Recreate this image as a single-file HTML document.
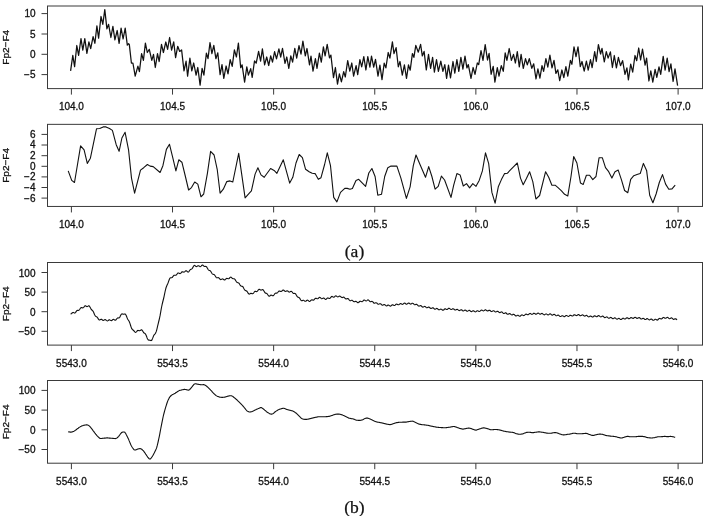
<!DOCTYPE html>
<html><head><meta charset="utf-8"><style>
html,body{margin:0;padding:0;background:#fff;width:709px;height:516px;overflow:hidden}
svg{display:block}
.ax{font-family:"Liberation Sans",Arial,sans-serif;font-size:10.0px;fill:#111;stroke:#111;stroke-width:0.3px}
.cap{font-family:"Liberation Serif","Times New Roman",serif;font-size:17.5px;fill:#111;stroke:#111;stroke-width:0.25px}
</style></head><body>
<svg width="709" height="516" viewBox="0 0 709 516">
<rect width="709" height="516" fill="#fff"/>
<rect x="47.5" y="6.0" width="655.0" height="82.6" fill="none" stroke="#3a3a3a" stroke-width="1"/>
<line x1="41.5" y1="13.6" x2="47.5" y2="13.6" stroke="#3a3a3a" stroke-width="1"/>
<text class="ax" text-anchor="end" transform="translate(35.5 17.35) scale(1.0 1)">10</text>
<line x1="41.5" y1="34.0" x2="47.5" y2="34.0" stroke="#3a3a3a" stroke-width="1"/>
<text class="ax" text-anchor="end" transform="translate(35.5 37.75) scale(1.0 1)">5</text>
<line x1="41.5" y1="54.3" x2="47.5" y2="54.3" stroke="#3a3a3a" stroke-width="1"/>
<text class="ax" text-anchor="end" transform="translate(35.5 58.05) scale(1.0 1)">0</text>
<line x1="41.5" y1="74.6" x2="47.5" y2="74.6" stroke="#3a3a3a" stroke-width="1"/>
<text class="ax" text-anchor="end" transform="translate(35.5 78.35) scale(1.0 1)">−5</text>
<line x1="71.40" y1="88.6" x2="71.40" y2="94.6" stroke="#3a3a3a" stroke-width="1"/>
<text class="ax" text-anchor="middle" transform="translate(71.40 110.39999999999999) scale(1.0 1)">104.0</text>
<line x1="172.52" y1="88.6" x2="172.52" y2="94.6" stroke="#3a3a3a" stroke-width="1"/>
<text class="ax" text-anchor="middle" transform="translate(172.52 110.39999999999999) scale(1.0 1)">104.5</text>
<line x1="273.63" y1="88.6" x2="273.63" y2="94.6" stroke="#3a3a3a" stroke-width="1"/>
<text class="ax" text-anchor="middle" transform="translate(273.63 110.39999999999999) scale(1.0 1)">105.0</text>
<line x1="374.75" y1="88.6" x2="374.75" y2="94.6" stroke="#3a3a3a" stroke-width="1"/>
<text class="ax" text-anchor="middle" transform="translate(374.75 110.39999999999999) scale(1.0 1)">105.5</text>
<line x1="475.87" y1="88.6" x2="475.87" y2="94.6" stroke="#3a3a3a" stroke-width="1"/>
<text class="ax" text-anchor="middle" transform="translate(475.87 110.39999999999999) scale(1.0 1)">106.0</text>
<line x1="576.98" y1="88.6" x2="576.98" y2="94.6" stroke="#3a3a3a" stroke-width="1"/>
<text class="ax" text-anchor="middle" transform="translate(576.98 110.39999999999999) scale(1.0 1)">106.5</text>
<line x1="678.10" y1="88.6" x2="678.10" y2="94.6" stroke="#3a3a3a" stroke-width="1"/>
<text class="ax" text-anchor="middle" transform="translate(678.10 110.39999999999999) scale(1.0 1)">107.0</text>
<text class="ax" text-anchor="middle" transform="translate(9.4 47.3) scale(0.92 1) rotate(-90)">Fp2−F4</text>
<polyline points="70.6,70.8 72.8,55.3 74.6,66.6 76.8,45.5 78.6,55.3 81.0,38.7 82.8,50.2 84.8,38.7 86.9,53.3 88.9,41.8 90.7,48.6 93.1,36.7 94.9,43.3 96.9,25.8 98.6,38.2 101.0,16.5 102.8,24.3 104.8,9.6 106.9,28.9 108.6,24.3 110.9,37.5 112.9,26.3 114.9,39.8 117.2,30.5 119.1,43.3 121.1,28.2 123.1,39.0 125.2,28.2 127.3,45.2 128.6,43.7 129.3,44.4 131.4,63.0 132.9,63.0 135.2,76.2 137.9,66.1 139.4,71.6 141.6,53.6 143.4,60.4 145.4,43.1 147.3,52.5 149.3,49.4 151.8,60.4 153.5,54.4 155.3,67.5 157.5,53.6 159.2,61.5 161.5,44.3 163.4,52.5 165.8,42.0 167.6,49.4 169.6,37.5 171.6,50.2 173.7,41.8 175.6,57.6 177.7,46.3 179.7,51.4 181.6,49.9 184.0,70.9 186.1,61.2 187.6,76.2 189.9,58.1 191.8,70.9 193.7,63.0 196.1,75.1 197.8,67.5 200.1,85.2 202.1,68.3 203.9,75.1 206.4,53.1 208.0,58.7 210.0,42.7 211.9,53.6 213.8,45.4 215.9,58.7 217.8,52.8 220.1,74.7 222.0,64.6 223.8,78.4 226.1,66.0 228.0,73.9 230.2,59.6 232.2,66.4 234.4,49.9 236.4,57.0 238.4,43.1 240.7,67.7 242.1,64.9 244.6,82.2 246.8,66.8 248.4,75.1 250.7,68.6 252.2,77.3 254.5,61.0 256.2,63.2 258.6,51.4 260.6,61.2 262.4,48.8 264.6,64.9 266.7,57.0 268.7,65.5 270.7,55.9 272.5,62.1 274.6,51.7 276.5,58.9 278.9,48.8 280.7,57.0 282.5,48.3 285.0,63.4 286.8,57.0 288.8,68.3 290.8,55.9 292.6,62.1 294.8,48.3 296.7,58.1 299.0,45.7 301.0,54.2 302.9,41.2 305.3,55.9 307.0,48.5 309.5,64.9 311.0,56.2 313.0,71.1 315.4,58.7 317.0,68.3 319.4,53.1 321.3,62.1 323.4,46.8 325.1,55.9 327.2,44.3 329.5,57.8 330.9,55.1 333.5,77.7 335.4,67.5 337.5,84.1 339.4,73.9 341.4,81.8 343.7,71.7 345.3,77.0 347.7,60.7 349.8,71.1 351.8,63.0 353.6,76.2 356.1,65.7 357.7,74.7 359.9,59.6 361.7,66.8 363.8,56.7 365.9,70.0 367.8,56.7 369.9,67.2 371.5,56.2 373.7,67.2 375.5,59.3 378.0,76.2 379.9,65.2 382.0,79.6 384.2,63.2 385.9,67.9 388.2,52.5 389.9,58.1 392.4,41.8 394.0,53.6 396.1,47.6 398.3,66.8 400.0,61.5 402.3,75.1 404.4,64.9 406.5,78.4 408.5,64.9 410.2,70.2 412.4,53.6 413.9,57.3 415.8,45.4 418.3,52.2 420.6,44.3 422.3,55.9 424.1,51.4 426.3,70.0 428.5,54.4 430.6,68.3 432.6,57.3 434.4,72.2 436.5,59.6 438.4,71.3 440.8,61.2 442.9,71.3 444.8,64.6 446.6,78.4 448.5,65.2 450.5,77.9 453.0,61.5 454.8,73.1 456.9,59.6 458.8,71.3 460.9,57.3 462.9,69.1 465.0,56.2 466.9,67.9 468.3,64.6 471.0,78.4 473.1,67.5 475.0,74.3 477.3,63.0 478.7,64.6 481.0,50.6 483.0,60.4 485.2,44.6 487.5,60.0 489.1,53.3 491.1,74.3 493.2,66.4 494.9,82.2 497.3,67.7 499.0,76.2 501.3,65.7 503.3,71.3 505.2,52.8 506.9,60.4 509.2,48.5 511.4,60.4 513.5,54.4 515.4,63.0 517.3,51.7 519.3,66.8 521.1,54.4 523.3,68.3 525.5,58.7 527.3,64.9 529.3,58.7 531.8,68.3 533.7,63.8 536.0,79.0 537.9,68.9 539.9,78.1 542.0,65.7 543.6,71.3 545.9,58.7 547.8,67.2 549.9,55.1 552.0,67.9 554.0,60.4 555.9,73.4 557.8,69.8 559.7,80.7 561.9,70.0 563.8,77.7 565.9,66.6 567.8,76.2 570.4,60.4 571.9,64.3 574.0,46.8 576.0,56.7 578.0,46.8 580.3,66.6 582.0,61.5 584.2,71.1 586.4,61.2 588.2,70.2 590.5,59.6 592.1,67.7 594.7,51.7 596.3,61.5 598.4,44.6 600.6,54.0 602.0,48.3 604.3,61.9 606.3,51.7 608.1,58.1 610.4,51.9 612.4,67.5 614.3,55.5 616.4,67.9 618.4,57.3 620.5,65.7 622.6,60.7 625.0,74.3 626.9,67.9 628.4,79.9 630.7,64.1 632.7,72.2 635.0,55.5 636.7,60.7 638.7,48.0 640.6,60.0 642.5,49.1 645.1,65.2 646.6,58.1 648.9,81.0 650.8,70.9 652.8,82.2 655.1,69.4 656.8,77.3 659.0,66.8 660.7,74.3 663.2,56.4 665.1,70.2 667.2,58.1 669.1,71.7 670.9,63.8 673.1,81.5 675.0,68.9 677.6,85.6" fill="none" stroke="#111" stroke-width="1.25" stroke-linejoin="round"/>
<rect x="47.5" y="124.35" width="655.0" height="82.1" fill="none" stroke="#3a3a3a" stroke-width="1"/>
<line x1="41.5" y1="134.4" x2="47.5" y2="134.4" stroke="#3a3a3a" stroke-width="1"/>
<text class="ax" text-anchor="end" transform="translate(35.5 137.85) scale(1.0 1)">6</text>
<line x1="41.5" y1="145.0" x2="47.5" y2="145.0" stroke="#3a3a3a" stroke-width="1"/>
<text class="ax" text-anchor="end" transform="translate(35.5 148.45) scale(1.0 1)">4</text>
<line x1="41.5" y1="155.7" x2="47.5" y2="155.7" stroke="#3a3a3a" stroke-width="1"/>
<text class="ax" text-anchor="end" transform="translate(35.5 159.14999999999998) scale(1.0 1)">2</text>
<line x1="41.5" y1="166.3" x2="47.5" y2="166.3" stroke="#3a3a3a" stroke-width="1"/>
<text class="ax" text-anchor="end" transform="translate(35.5 169.75) scale(1.0 1)">0</text>
<line x1="41.5" y1="176.9" x2="47.5" y2="176.9" stroke="#3a3a3a" stroke-width="1"/>
<text class="ax" text-anchor="end" transform="translate(35.5 180.35) scale(1.0 1)">−2</text>
<line x1="41.5" y1="187.5" x2="47.5" y2="187.5" stroke="#3a3a3a" stroke-width="1"/>
<text class="ax" text-anchor="end" transform="translate(35.5 190.95) scale(1.0 1)">−4</text>
<line x1="41.5" y1="198.1" x2="47.5" y2="198.1" stroke="#3a3a3a" stroke-width="1"/>
<text class="ax" text-anchor="end" transform="translate(35.5 201.54999999999998) scale(1.0 1)">−6</text>
<line x1="71.40" y1="206.45" x2="71.40" y2="212.45" stroke="#3a3a3a" stroke-width="1"/>
<text class="ax" text-anchor="middle" transform="translate(71.40 228.25) scale(1.0 1)">104.0</text>
<line x1="172.52" y1="206.45" x2="172.52" y2="212.45" stroke="#3a3a3a" stroke-width="1"/>
<text class="ax" text-anchor="middle" transform="translate(172.52 228.25) scale(1.0 1)">104.5</text>
<line x1="273.63" y1="206.45" x2="273.63" y2="212.45" stroke="#3a3a3a" stroke-width="1"/>
<text class="ax" text-anchor="middle" transform="translate(273.63 228.25) scale(1.0 1)">105.0</text>
<line x1="374.75" y1="206.45" x2="374.75" y2="212.45" stroke="#3a3a3a" stroke-width="1"/>
<text class="ax" text-anchor="middle" transform="translate(374.75 228.25) scale(1.0 1)">105.5</text>
<line x1="475.87" y1="206.45" x2="475.87" y2="212.45" stroke="#3a3a3a" stroke-width="1"/>
<text class="ax" text-anchor="middle" transform="translate(475.87 228.25) scale(1.0 1)">106.0</text>
<line x1="576.98" y1="206.45" x2="576.98" y2="212.45" stroke="#3a3a3a" stroke-width="1"/>
<text class="ax" text-anchor="middle" transform="translate(576.98 228.25) scale(1.0 1)">106.5</text>
<line x1="678.10" y1="206.45" x2="678.10" y2="212.45" stroke="#3a3a3a" stroke-width="1"/>
<text class="ax" text-anchor="middle" transform="translate(678.10 228.25) scale(1.0 1)">107.0</text>
<text class="ax" text-anchor="middle" transform="translate(9.4 165.4) scale(0.92 1) rotate(-90)">Fp2−F4</text>
<polyline points="68.2,170.9 71.7,180.4 74.5,182.5 80.6,145.9 84.1,149.8 87.3,163.4 90.4,158.2 96.5,128.8 99.7,128.5 103.2,126.9 106.0,126.9 109.5,128.5 112.4,130.4 116.2,144.7 119.1,151.3 121.9,138.0 125.1,132.3 128.6,150.2 131.5,178.1 134.6,193.2 140.5,170.1 143.7,167.7 147.4,164.5 150.1,166.1 153.2,166.6 160.1,172.5 162.9,165.7 166.4,149.4 169.5,144.3 172.7,157.4 175.9,170.9 178.8,159.8 181.9,162.2 185.4,176.5 188.6,190.0 191.5,187.6 194.7,182.0 197.8,184.1 201.0,196.8 203.7,194.0 207.4,173.3 210.6,151.3 214.1,155.0 217.2,169.3 220.1,193.2 223.3,189.2 226.8,181.6 230.0,180.9 232.8,182.0 238.7,153.4 245.1,197.9 248.2,194.3 251.4,190.8 255.1,174.1 257.9,167.7 261.0,174.9 264.2,177.3 270.6,168.5 274.1,170.4 276.9,173.3 283.3,159.8 289.7,183.1 292.8,177.3 296.0,163.0 299.2,154.5 302.4,157.7 305.6,169.3 309.1,171.7 312.2,173.3 315.1,173.6 318.3,179.3 321.0,177.7 324.6,164.5 327.3,152.9 330.5,165.7 333.7,197.4 336.9,201.9 340.5,192.4 344.8,188.4 347.2,188.4 350.0,189.2 352.4,188.4 356.0,180.4 358.7,179.3 362.4,183.1 365.6,186.3 368.8,173.0 371.9,168.5 375.1,176.5 377.8,195.2 381.5,194.3 384.7,176.5 387.8,167.7 391.0,166.1 394.2,166.1 396.9,166.1 400.9,178.1 406.4,198.4 410.1,186.8 413.3,165.7 416.0,155.0 420.0,164.5 425.5,177.3 428.7,166.6 431.9,176.5 435.1,189.2 438.2,186.3 441.4,176.1 444.6,180.0 451.0,197.4 453.7,185.2 456.9,173.6 460.1,174.9 463.3,186.0 466.5,183.6 469.6,187.9 472.8,183.6 476.0,186.3 479.2,180.4 482.4,170.9 485.5,152.9 488.7,163.7 491.9,192.4 495.1,203.2 498.3,186.8 501.4,179.6 504.6,173.6 507.3,173.3 510.2,170.1 513.7,166.6 517.3,163.0 520.5,178.1 523.2,184.7 526.4,178.4 529.6,171.7 532.8,181.6 535.9,199.0 539.6,195.5 545.6,171.7 548.7,177.3 551.9,185.2 555.1,185.2 558.3,187.9 561.5,190.8 564.6,194.3 567.8,195.9 571.0,176.5 573.7,156.6 576.9,163.0 580.5,183.1 583.2,184.4 586.4,175.2 589.6,175.2 592.8,179.6 596.0,176.5 599.1,157.7 602.3,157.7 605.5,167.7 608.7,171.7 611.9,178.1 615.0,171.7 618.2,170.1 621.4,179.6 624.6,190.5 627.8,192.7 630.7,179.3 633.8,175.7 637.0,174.6 640.2,173.6 643.4,163.4 646.6,170.4 649.7,195.2 652.9,202.7 656.1,194.0 659.3,182.5 662.5,174.6 665.6,184.1 668.8,189.2 672.0,188.9 675.2,185.2" fill="none" stroke="#111" stroke-width="1.1" stroke-linejoin="round"/>
<rect x="47.5" y="262.5" width="655.0" height="82.60000000000002" fill="none" stroke="#3a3a3a" stroke-width="1"/>
<line x1="41.5" y1="272.5" x2="47.5" y2="272.5" stroke="#3a3a3a" stroke-width="1"/>
<text class="ax" text-anchor="end" transform="translate(35.5 276.6) scale(1.0 1)">100</text>
<line x1="41.5" y1="292.1" x2="47.5" y2="292.1" stroke="#3a3a3a" stroke-width="1"/>
<text class="ax" text-anchor="end" transform="translate(35.5 296.20000000000005) scale(1.0 1)">50</text>
<line x1="41.5" y1="311.7" x2="47.5" y2="311.7" stroke="#3a3a3a" stroke-width="1"/>
<text class="ax" text-anchor="end" transform="translate(35.5 315.8) scale(1.0 1)">0</text>
<line x1="41.5" y1="331.3" x2="47.5" y2="331.3" stroke="#3a3a3a" stroke-width="1"/>
<text class="ax" text-anchor="end" transform="translate(35.5 335.40000000000003) scale(1.0 1)">−50</text>
<line x1="71.40" y1="345.1" x2="71.40" y2="351.1" stroke="#3a3a3a" stroke-width="1"/>
<text class="ax" text-anchor="middle" transform="translate(71.40 366.90000000000003) scale(1.0 1)">5543.0</text>
<line x1="172.52" y1="345.1" x2="172.52" y2="351.1" stroke="#3a3a3a" stroke-width="1"/>
<text class="ax" text-anchor="middle" transform="translate(172.52 366.90000000000003) scale(1.0 1)">5543.5</text>
<line x1="273.63" y1="345.1" x2="273.63" y2="351.1" stroke="#3a3a3a" stroke-width="1"/>
<text class="ax" text-anchor="middle" transform="translate(273.63 366.90000000000003) scale(1.0 1)">5544.0</text>
<line x1="374.75" y1="345.1" x2="374.75" y2="351.1" stroke="#3a3a3a" stroke-width="1"/>
<text class="ax" text-anchor="middle" transform="translate(374.75 366.90000000000003) scale(1.0 1)">5544.5</text>
<line x1="475.87" y1="345.1" x2="475.87" y2="351.1" stroke="#3a3a3a" stroke-width="1"/>
<text class="ax" text-anchor="middle" transform="translate(475.87 366.90000000000003) scale(1.0 1)">5545.0</text>
<line x1="576.98" y1="345.1" x2="576.98" y2="351.1" stroke="#3a3a3a" stroke-width="1"/>
<text class="ax" text-anchor="middle" transform="translate(576.98 366.90000000000003) scale(1.0 1)">5545.5</text>
<line x1="678.10" y1="345.1" x2="678.10" y2="351.1" stroke="#3a3a3a" stroke-width="1"/>
<text class="ax" text-anchor="middle" transform="translate(678.10 366.90000000000003) scale(1.0 1)">5546.0</text>
<text class="ax" text-anchor="middle" transform="translate(9.4 303.8) scale(0.92 1) rotate(-90)">Fp2−F4</text>
<polyline points="70.6,314.0 71.1,313.9 71.6,313.5 72.1,313.0 72.6,312.6 73.1,312.4 73.6,312.6 74.1,312.9 74.6,313.1 75.1,312.9 75.6,312.4 76.1,311.6 76.6,310.9 77.1,310.5 77.6,310.3 78.1,310.4 78.6,310.4 79.1,310.1 79.6,309.5 80.1,308.7 80.6,308.0 81.1,307.6 81.6,307.6 82.1,307.8 82.6,307.9 83.1,307.8 83.6,307.4 84.1,306.8 84.6,306.1 85.1,305.8 85.6,305.8 86.1,306.1 86.6,306.5 87.1,306.6 87.6,306.4 88.1,306.1 88.6,305.8 89.1,305.9 89.6,306.4 90.1,307.3 90.6,308.3 91.1,309.2 91.6,309.8 92.1,310.2 92.6,310.7 93.1,311.3 93.6,312.3 94.1,313.5 94.6,314.7 95.1,315.6 95.6,316.2 96.1,316.5 96.6,316.7 97.1,317.1 97.6,317.8 98.1,318.6 98.6,319.4 99.1,319.9 99.6,320.0 100.1,319.7 100.6,319.4 101.1,319.2 101.6,319.3 102.1,319.7 102.6,320.2 103.1,320.4 103.6,320.4 104.1,320.1 104.6,319.8 105.1,319.6 105.6,319.7 106.1,320.2 106.6,320.6 107.1,320.9 107.6,320.9 108.1,320.6 108.6,320.2 109.1,319.8 109.6,319.8 110.1,320.1 110.6,320.4 111.1,320.6 111.6,320.6 112.1,320.2 112.6,319.8 113.1,319.4 113.6,319.4 114.1,319.6 114.6,320.0 115.1,320.2 115.6,320.1 116.1,319.7 116.6,319.0 117.1,318.4 117.6,318.0 118.1,317.9 118.6,318.0 119.1,317.9 119.6,317.4 120.1,316.6 120.6,315.5 121.1,314.6 121.6,314.0 122.1,313.9 122.6,314.0 123.1,314.2 123.6,314.3 124.1,314.1 124.6,314.0 125.1,314.0 125.6,314.4 126.1,315.3 126.6,316.5 127.1,317.8 127.6,318.9 128.1,319.8 128.6,320.5 129.1,321.3 129.6,322.4 130.1,323.9 130.6,325.5 131.1,327.1 131.6,328.4 132.1,329.2 132.6,329.7 133.1,330.0 133.6,330.5 134.1,331.0 134.6,331.7 135.1,332.2 135.6,332.4 136.1,332.1 136.6,331.6 137.1,331.0 137.6,330.5 138.1,330.4 138.6,330.6 139.1,330.8 139.6,330.8 140.1,330.6 140.6,330.2 141.1,329.9 141.6,329.8 142.1,330.2 142.6,330.9 143.1,331.7 143.6,332.5 144.1,333.0 144.6,333.3 145.1,333.6 145.6,334.2 146.1,335.2 146.6,336.5 147.1,337.9 147.6,339.0 148.1,339.7 148.6,340.1 149.1,340.1 149.6,340.2 150.1,340.3 150.6,340.5 151.1,340.6 151.6,340.4 152.1,339.6 152.6,338.4 153.1,337.1 153.6,335.8 154.1,334.9 154.6,334.3 155.1,333.8 155.6,333.1 156.1,331.9 156.6,330.3 157.1,328.3 157.6,326.2 158.1,324.1 158.6,322.0 159.1,320.0 159.6,317.8 160.1,315.4 160.6,312.6 161.1,309.7 161.6,307.0 162.1,304.6 162.6,302.5 163.1,300.5 163.6,298.5 164.1,296.3 164.6,293.9 165.1,291.5 165.6,289.3 166.1,287.5 166.6,286.2 167.1,285.1 167.6,284.0 168.1,282.8 168.6,281.4 169.1,280.0 169.6,278.8 170.1,278.0 170.6,277.7 171.1,277.7 171.6,277.7 172.1,277.5 172.6,277.0 173.1,276.3 173.6,275.7 174.1,275.3 174.6,275.2 175.1,275.3 175.6,275.3 176.1,275.2 176.6,274.7 177.1,274.0 177.6,273.3 178.1,273.0 178.6,273.0 179.1,273.2 179.6,273.5 180.1,273.6 180.6,273.3 181.1,272.8 181.6,272.2 182.1,271.8 182.6,271.7 183.1,271.9 183.6,272.1 184.1,272.1 184.6,271.8 185.1,271.4 185.6,270.9 186.1,270.8 186.6,270.9 187.1,271.4 187.6,271.9 188.1,272.1 188.6,271.9 189.1,271.3 189.6,270.5 190.1,269.9 190.6,269.4 191.1,269.2 191.6,269.0 192.1,268.6 192.6,267.9 193.1,267.0 193.6,266.1 194.1,265.5 194.6,265.4 195.1,265.7 195.6,266.2 196.1,266.5 196.6,266.6 197.1,266.3 197.6,265.9 198.1,265.7 198.6,265.7 199.1,266.0 199.6,266.4 200.1,266.7 200.6,266.5 201.1,266.1 201.6,265.5 202.1,265.1 202.6,265.1 203.1,265.3 203.6,265.8 204.1,266.3 204.6,266.5 205.1,266.5 205.6,266.4 206.1,266.5 206.6,266.9 207.1,267.7 207.6,268.6 208.1,269.5 208.6,270.1 209.1,270.4 209.6,270.5 210.1,270.7 210.6,271.2 211.1,271.9 211.6,272.8 212.1,273.6 212.6,274.1 213.1,274.4 213.6,274.4 214.1,274.6 214.6,275.0 215.1,275.7 215.6,276.5 216.1,277.3 216.6,277.8 217.1,277.8 217.6,277.7 218.1,277.6 218.6,277.7 219.1,278.1 219.6,278.7 220.1,279.3 220.6,279.6 221.1,279.5 221.6,279.3 222.1,279.0 222.6,278.9 223.1,279.1 223.6,279.5 224.1,279.9 224.6,280.0 225.1,279.8 225.6,279.3 226.1,278.7 226.6,278.4 227.1,278.4 227.6,278.6 228.1,278.8 228.6,278.8 229.1,278.5 229.6,278.0 230.1,277.4 230.6,277.1 231.1,277.2 231.6,277.6 232.1,278.2 232.6,278.6 233.1,278.8 233.6,278.8 234.1,278.8 234.6,279.0 235.1,279.6 235.6,280.4 236.1,281.3 236.6,282.0 237.1,282.4 237.6,282.6 238.1,282.7 238.6,282.9 239.1,283.4 239.6,284.2 240.1,285.1 240.6,285.8 241.1,286.1 241.6,286.2 242.1,286.2 242.6,286.5 243.1,287.0 243.6,287.9 244.1,288.9 244.6,289.8 245.1,290.3 245.6,290.6 246.1,290.7 246.6,291.0 247.1,291.5 247.6,292.3 248.1,293.2 248.6,293.8 249.1,294.1 249.6,294.0 250.1,293.7 250.6,293.4 251.1,293.3 251.6,293.5 252.1,293.7 252.6,293.8 253.1,293.6 253.6,293.0 254.1,292.3 254.6,291.6 255.1,291.3 255.6,291.4 256.1,291.5 256.6,291.6 257.1,291.5 257.6,290.9 258.1,290.2 258.6,289.6 259.1,289.3 259.6,289.4 260.1,289.7 260.6,290.0 261.1,290.1 261.6,289.9 262.1,289.7 262.6,289.6 263.1,289.8 263.6,290.4 264.1,291.3 264.6,292.2 265.1,292.8 265.6,293.2 266.1,293.3 266.6,293.4 267.1,293.8 267.6,294.5 268.1,295.2 268.6,295.9 269.1,296.2 269.6,296.1 270.1,295.7 270.6,295.3 271.1,295.1 271.6,295.2 272.1,295.5 272.6,295.8 273.1,295.8 273.6,295.5 274.1,294.8 274.6,294.0 275.1,293.4 275.6,293.1 276.1,293.1 276.6,293.1 277.1,293.0 277.6,292.6 278.1,292.0 278.6,291.4 279.1,291.0 279.6,291.0 280.1,291.2 280.6,291.4 281.1,291.5 281.6,291.3 282.1,290.8 282.6,290.3 283.1,290.0 283.6,290.1 284.1,290.5 284.6,291.0 285.1,291.3 285.6,291.4 286.1,291.2 286.6,290.9 287.1,290.7 287.6,290.9 288.1,291.3 288.6,291.8 289.1,292.1 289.6,292.0 290.1,291.8 290.6,291.4 291.1,291.2 291.6,291.4 292.1,292.0 292.6,292.6 293.1,293.2 293.6,293.5 294.1,293.5 294.6,293.4 295.1,293.5 295.6,293.9 296.1,294.7 296.6,295.6 297.1,296.4 297.6,297.0 298.1,297.3 298.6,297.4 299.1,297.6 299.6,298.1 300.1,298.9 300.6,299.8 301.1,300.5 301.6,300.8 302.1,300.8 302.6,300.5 303.1,300.3 303.6,300.3 304.1,300.6 304.6,301.0 305.1,301.3 305.6,301.3 306.1,301.0 306.6,300.5 307.1,300.2 307.6,300.1 308.1,300.4 308.6,300.9 309.1,301.3 309.6,301.5 310.1,301.2 310.6,300.7 311.1,300.2 311.6,299.9 312.1,299.8 312.6,300.0 313.1,300.2 313.6,300.1 314.1,299.7 314.6,299.1 315.1,298.5 315.6,298.2 316.1,298.2 316.6,298.5 317.1,298.7 317.6,298.8 318.1,298.5 318.6,298.0 319.1,297.6 319.6,297.3 320.1,297.5 320.6,297.9 321.1,298.4 321.6,298.7 322.1,298.6 322.6,298.4 323.1,298.1 323.6,298.0 324.1,298.2 324.6,298.7 325.1,299.2 325.6,299.4 326.1,299.2 326.6,298.8 327.1,298.3 327.6,298.0 328.1,297.9 328.6,298.2 329.1,298.4 329.6,298.5 330.1,298.2 330.6,297.6 331.1,297.0 331.6,296.5 332.1,296.4 332.6,296.7 333.1,297.0 333.6,297.2 334.1,297.1 334.6,296.7 335.1,296.2 335.6,295.9 336.1,295.9 336.6,296.2 337.1,296.6 337.6,296.9 338.1,296.9 338.6,296.6 339.1,296.3 339.6,296.1 340.1,296.2 340.6,296.6 341.1,297.0 341.6,297.4 342.1,297.6 342.6,297.5 343.1,297.2 343.6,297.1 344.1,297.3 344.6,297.8 345.1,298.3 345.6,298.8 346.1,299.0 346.6,298.9 347.1,298.6 347.6,298.5 348.1,298.6 348.6,299.1 349.1,299.8 349.6,300.4 350.1,300.7 350.6,300.7 351.1,300.4 351.6,300.2 352.1,300.3 352.6,300.6 353.1,301.1 353.6,301.6 354.1,301.8 354.6,301.8 355.1,301.5 355.6,301.4 356.1,301.4 356.6,301.7 357.1,302.2 357.6,302.6 358.1,302.7 358.6,302.5 359.1,302.0 359.6,301.5 360.1,301.2 360.6,301.2 361.1,301.4 361.6,301.6 362.1,301.7 362.6,301.4 363.1,300.8 363.6,300.3 364.1,300.0 364.6,300.1 365.1,300.4 365.6,300.7 366.1,300.9 366.6,300.7 367.1,300.4 367.6,300.0 368.1,299.9 368.6,300.1 369.1,300.6 369.6,301.2 370.1,301.6 370.6,301.7 371.1,301.6 371.6,301.4 372.1,301.4 372.6,301.7 373.1,302.2 373.6,302.8 374.1,303.2 374.6,303.3 375.1,303.1 375.6,302.8 376.1,302.7 376.6,302.9 377.1,303.3 377.6,303.9 378.1,304.2 378.6,304.3 379.1,304.1 379.6,303.8 380.1,303.7 380.6,303.8 381.1,304.2 381.6,304.7 382.1,305.1 382.6,305.2 383.1,305.0 383.6,304.7 384.1,304.5 384.6,304.6 385.1,304.9 385.6,305.4 386.1,305.8 386.6,305.9 387.1,305.7 387.6,305.3 388.1,305.0 388.6,305.1 389.1,305.4 389.6,305.8 390.1,306.1 390.6,306.1 391.1,305.8 391.6,305.3 392.1,304.9 392.6,304.8 393.1,304.9 393.6,305.3 394.1,305.5 394.6,305.5 395.1,305.2 395.6,304.7 396.1,304.2 396.6,304.1 397.1,304.2 397.6,304.5 398.1,304.8 398.6,304.8 399.1,304.5 399.6,304.1 400.1,303.7 400.6,303.5 401.1,303.7 401.6,304.0 402.1,304.3 402.6,304.4 403.1,304.1 403.6,303.6 404.1,303.2 404.6,303.1 405.1,303.3 405.6,303.7 406.1,304.1 406.6,304.2 407.1,304.0 407.6,303.6 408.1,303.2 408.6,303.0 409.1,303.1 409.6,303.5 410.1,303.9 410.6,304.1 411.1,304.0 411.6,303.6 412.1,303.3 412.6,303.2 413.1,303.4 413.6,303.9 414.1,304.4 414.6,304.7 415.1,304.8 415.6,304.6 416.1,304.3 416.6,304.3 417.1,304.6 417.6,305.1 418.1,305.7 418.6,306.0 419.1,306.1 419.6,305.9 420.1,305.7 420.6,305.6 421.1,305.8 421.6,306.2 422.1,306.8 422.6,307.1 423.1,307.1 423.6,306.9 424.1,306.6 424.6,306.4 425.1,306.5 425.6,306.9 426.1,307.4 426.6,307.8 427.1,307.8 427.6,307.6 428.1,307.3 428.6,307.1 429.1,307.1 429.6,307.5 430.1,308.0 430.6,308.4 431.1,308.5 431.6,308.3 432.1,308.0 432.6,307.7 433.1,307.8 433.6,308.2 434.1,308.7 434.6,309.1 435.1,309.2 435.6,309.0 436.1,308.7 436.6,308.4 437.1,308.5 437.6,308.8 438.1,309.3 438.6,309.7 439.1,309.8 439.6,309.7 440.1,309.4 440.6,309.1 441.1,309.1 441.6,309.4 442.1,309.8 442.6,310.2 443.1,310.2 443.6,310.0 444.1,309.5 444.6,309.0 445.1,308.8 445.6,308.9 446.1,309.2 446.6,309.4 447.1,309.5 447.6,309.2 448.1,308.7 448.6,308.3 449.1,308.2 449.6,308.4 450.1,308.9 450.6,309.3 451.1,309.5 451.6,309.4 452.1,309.1 452.6,308.7 453.1,308.7 453.6,308.9 454.1,309.3 454.6,309.8 455.1,310.0 455.6,310.0 456.1,309.7 456.6,309.4 457.1,309.2 457.6,309.4 458.1,309.9 458.6,310.3 459.1,310.6 459.6,310.5 460.1,310.2 460.6,309.9 461.1,309.7 461.6,309.8 462.1,310.2 462.6,310.7 463.1,311.0 463.6,310.9 464.1,310.6 464.6,310.3 465.1,310.0 465.6,310.2 466.1,310.5 466.6,311.0 467.1,311.2 467.6,311.2 468.1,310.9 468.6,310.6 469.1,310.3 469.6,310.4 470.1,310.8 470.6,311.3 471.1,311.6 471.6,311.6 472.1,311.3 472.6,310.9 473.1,310.7 473.6,310.7 474.1,311.1 474.6,311.5 475.1,311.8 475.6,311.9 476.1,311.6 476.6,311.1 477.1,310.8 477.6,310.7 478.1,310.9 478.6,311.3 479.1,311.5 479.6,311.4 480.1,311.1 480.6,310.6 481.1,310.2 481.6,310.1 482.1,310.3 482.6,310.6 483.1,310.9 483.6,310.9 484.1,310.6 484.6,310.2 485.1,309.9 485.6,309.8 486.1,310.1 486.6,310.5 487.1,310.9 487.6,311.0 488.1,310.9 488.6,310.5 489.1,310.2 489.6,310.2 490.1,310.5 490.6,311.0 491.1,311.4 491.6,311.6 492.1,311.4 492.6,311.1 493.1,310.8 493.6,310.7 494.1,310.9 494.6,311.4 495.1,311.8 495.6,312.0 496.1,311.9 496.6,311.6 497.1,311.3 497.6,311.2 498.1,311.5 498.6,311.9 499.1,312.4 499.6,312.6 500.1,312.6 500.6,312.3 501.1,312.0 501.6,311.9 502.1,312.1 502.6,312.6 503.1,313.1 503.6,313.5 504.1,313.4 504.6,313.2 505.1,312.9 505.6,312.8 506.1,313.0 506.6,313.5 507.1,314.0 507.6,314.3 508.1,314.3 508.6,314.0 509.1,313.7 509.6,313.5 510.1,313.7 510.6,314.1 511.1,314.6 511.6,314.9 512.1,314.9 512.6,314.7 513.1,314.3 513.6,314.2 514.1,314.4 514.6,314.9 515.1,315.5 515.6,315.9 516.1,316.0 516.6,315.8 517.1,315.5 517.6,315.3 518.1,315.3 518.6,315.6 519.1,316.0 519.6,316.3 520.1,316.2 520.6,315.8 521.1,315.3 521.6,315.0 522.1,314.9 522.6,315.1 523.1,315.4 523.6,315.6 524.1,315.5 524.6,315.1 525.1,314.6 525.6,314.2 526.1,314.1 526.6,314.2 527.1,314.6 527.6,314.8 528.1,314.8 528.6,314.4 529.1,314.0 529.6,313.6 530.1,313.4 530.6,313.6 531.1,314.0 531.6,314.3 532.1,314.4 532.6,314.1 533.1,313.7 533.6,313.3 534.1,313.2 534.6,313.4 535.1,313.8 535.6,314.2 536.1,314.3 536.6,314.1 537.1,313.6 537.6,313.2 538.1,313.1 538.6,313.2 539.1,313.6 539.6,314.0 540.1,314.2 540.6,314.1 541.1,313.8 541.6,313.5 542.1,313.4 542.6,313.7 543.1,314.2 543.6,314.6 544.1,314.9 544.6,314.8 545.1,314.4 545.6,314.1 546.1,313.9 546.6,314.1 547.1,314.4 547.6,314.8 548.1,315.0 548.6,314.8 549.1,314.4 549.6,314.0 550.1,313.8 550.6,314.0 551.1,314.4 551.6,314.9 552.1,315.2 552.6,315.1 553.1,314.8 553.6,314.5 554.1,314.3 554.6,314.5 555.1,314.9 555.6,315.4 556.1,315.7 556.6,315.7 557.1,315.5 557.6,315.2 558.1,315.0 558.6,315.2 559.1,315.6 559.6,316.1 560.1,316.5 560.6,316.5 561.1,316.3 561.6,315.9 562.1,315.7 562.6,315.7 563.1,316.0 563.6,316.4 564.1,316.7 564.6,316.6 565.1,316.3 565.6,315.8 566.1,315.5 566.6,315.5 567.1,315.7 567.6,316.1 568.1,316.4 568.6,316.4 569.1,316.1 569.6,315.6 570.1,315.2 570.6,315.2 571.1,315.4 571.6,315.7 572.1,316.0 572.6,316.0 573.1,315.7 573.6,315.2 574.1,314.8 574.6,314.7 575.1,314.9 575.6,315.2 576.1,315.5 576.6,315.6 577.1,315.4 577.6,315.0 578.1,314.6 578.6,314.6 579.1,314.8 579.6,315.3 580.1,315.7 580.6,315.8 581.1,315.6 581.6,315.3 582.1,314.9 582.6,314.9 583.1,315.1 583.6,315.5 584.1,315.9 584.6,316.1 585.1,316.0 585.6,315.7 586.1,315.4 586.6,315.4 587.1,315.7 587.6,316.2 588.1,316.6 588.6,316.9 589.1,316.8 589.6,316.5 590.1,316.1 590.6,316.0 591.1,316.2 591.6,316.5 592.1,316.9 592.6,317.1 593.1,316.9 593.6,316.5 594.1,316.0 594.6,315.8 595.1,315.9 595.6,316.2 596.1,316.5 596.6,316.7 597.1,316.6 597.6,316.2 598.1,315.8 598.6,315.6 599.1,315.7 599.6,316.1 600.1,316.6 600.6,316.9 601.1,316.9 601.6,316.6 602.1,316.3 602.6,316.1 603.1,316.3 603.6,316.7 604.1,317.2 604.6,317.6 605.1,317.6 605.6,317.4 606.1,317.1 606.6,316.9 607.1,317.0 607.6,317.4 608.1,317.9 608.6,318.2 609.1,318.3 609.6,318.0 610.1,317.7 610.6,317.4 611.1,317.5 611.6,317.8 612.1,318.3 612.6,318.6 613.1,318.7 613.6,318.5 614.1,318.1 614.6,317.8 615.1,317.9 615.6,318.2 616.1,318.7 616.6,319.0 617.1,319.2 617.6,319.0 618.1,318.6 618.6,318.4 619.1,318.4 619.6,318.7 620.1,319.2 620.6,319.5 621.1,319.5 621.6,319.2 622.1,318.8 622.6,318.3 623.1,318.2 623.6,318.3 624.1,318.7 624.6,319.0 625.1,319.0 625.6,318.7 626.1,318.3 626.6,317.9 627.1,317.8 627.6,317.9 628.1,318.3 628.6,318.7 629.1,318.8 629.6,318.6 630.1,318.2 630.6,317.7 631.1,317.5 631.6,317.7 632.1,318.0 632.6,318.3 633.1,318.4 633.6,318.2 634.1,317.8 634.6,317.4 635.1,317.2 635.6,317.4 636.1,317.8 636.6,318.2 637.1,318.4 637.6,318.3 638.1,318.0 638.6,317.7 639.1,317.6 639.6,317.8 640.1,318.2 640.6,318.7 641.1,319.0 641.6,319.0 642.1,318.7 642.6,318.4 643.1,318.2 643.6,318.4 644.1,318.8 644.6,319.2 645.1,319.5 645.6,319.5 646.1,319.2 646.6,318.8 647.1,318.6 647.6,318.8 648.1,319.1 648.6,319.6 649.1,319.9 649.6,319.9 650.1,319.6 650.6,319.3 651.1,319.0 651.6,319.1 652.1,319.5 652.6,320.0 653.1,320.3 653.6,320.3 654.1,320.0 654.6,319.6 655.1,319.3 655.6,319.3 656.1,319.5 656.6,319.9 657.1,320.1 657.6,320.0 658.1,319.5 658.6,319.0 659.1,318.6 659.6,318.4 660.1,318.5 660.6,318.8 661.1,319.0 661.6,318.9 662.1,318.5 662.6,318.0 663.1,317.6 663.6,317.4 664.1,317.6 664.6,318.0 665.1,318.3 665.6,318.3 666.1,318.1 666.6,317.7 667.1,317.4 667.6,317.4 668.1,317.6 668.6,318.1 669.1,318.5 669.6,318.7 670.1,318.5 670.6,318.2 671.1,317.9 671.6,317.9 672.1,318.2 672.6,318.7 673.1,319.2 673.6,319.4 674.1,319.3 674.6,319.0 675.1,318.7 675.6,318.7 676.1,319.0 676.6,319.5 677.1,319.9" fill="none" stroke="#111" stroke-width="1.1" stroke-linejoin="round"/>
<rect x="47.5" y="380.5" width="655.0" height="82.69999999999999" fill="none" stroke="#3a3a3a" stroke-width="1"/>
<line x1="41.5" y1="390.4" x2="47.5" y2="390.4" stroke="#3a3a3a" stroke-width="1"/>
<text class="ax" text-anchor="end" transform="translate(35.5 394.34999999999997) scale(1.0 1)">100</text>
<line x1="41.5" y1="410.1" x2="47.5" y2="410.1" stroke="#3a3a3a" stroke-width="1"/>
<text class="ax" text-anchor="end" transform="translate(35.5 414.05) scale(1.0 1)">50</text>
<line x1="41.5" y1="429.8" x2="47.5" y2="429.8" stroke="#3a3a3a" stroke-width="1"/>
<text class="ax" text-anchor="end" transform="translate(35.5 433.75) scale(1.0 1)">0</text>
<line x1="41.5" y1="449.5" x2="47.5" y2="449.5" stroke="#3a3a3a" stroke-width="1"/>
<text class="ax" text-anchor="end" transform="translate(35.5 453.45) scale(1.0 1)">−50</text>
<line x1="71.40" y1="463.2" x2="71.40" y2="469.2" stroke="#3a3a3a" stroke-width="1"/>
<text class="ax" text-anchor="middle" transform="translate(71.40 485.0) scale(1.0 1)">5543.0</text>
<line x1="172.52" y1="463.2" x2="172.52" y2="469.2" stroke="#3a3a3a" stroke-width="1"/>
<text class="ax" text-anchor="middle" transform="translate(172.52 485.0) scale(1.0 1)">5543.5</text>
<line x1="273.63" y1="463.2" x2="273.63" y2="469.2" stroke="#3a3a3a" stroke-width="1"/>
<text class="ax" text-anchor="middle" transform="translate(273.63 485.0) scale(1.0 1)">5544.0</text>
<line x1="374.75" y1="463.2" x2="374.75" y2="469.2" stroke="#3a3a3a" stroke-width="1"/>
<text class="ax" text-anchor="middle" transform="translate(374.75 485.0) scale(1.0 1)">5544.5</text>
<line x1="475.87" y1="463.2" x2="475.87" y2="469.2" stroke="#3a3a3a" stroke-width="1"/>
<text class="ax" text-anchor="middle" transform="translate(475.87 485.0) scale(1.0 1)">5545.0</text>
<line x1="576.98" y1="463.2" x2="576.98" y2="469.2" stroke="#3a3a3a" stroke-width="1"/>
<text class="ax" text-anchor="middle" transform="translate(576.98 485.0) scale(1.0 1)">5545.5</text>
<line x1="678.10" y1="463.2" x2="678.10" y2="469.2" stroke="#3a3a3a" stroke-width="1"/>
<text class="ax" text-anchor="middle" transform="translate(678.10 485.0) scale(1.0 1)">5546.0</text>
<text class="ax" text-anchor="middle" transform="translate(9.4 421.9) scale(0.92 1) rotate(-90)">Fp2−F4</text>
<polyline points="68.2,431.8 68.7,431.9 69.2,431.9 69.7,432.0 70.2,432.1 70.7,432.1 71.2,432.1 71.7,432.0 72.2,431.9 72.7,431.8 73.2,431.6 73.7,431.4 74.2,431.1 74.7,430.8 75.2,430.4 75.7,430.0 76.2,429.7 76.7,429.3 77.2,428.9 77.7,428.5 78.2,428.2 78.7,427.8 79.2,427.4 79.7,427.1 80.2,426.7 80.7,426.5 81.2,426.3 81.7,426.0 82.2,425.8 82.7,425.7 83.2,425.5 83.7,425.3 84.2,425.2 84.7,425.1 85.2,425.0 85.7,425.0 86.2,424.9 86.7,424.8 87.2,424.9 87.7,425.1 88.2,425.3 88.7,425.6 89.2,425.9 89.7,426.3 90.2,426.8 90.7,427.4 91.2,428.1 91.7,428.7 92.2,429.4 92.7,430.1 93.2,430.8 93.7,431.4 94.2,432.1 94.7,432.8 95.2,433.4 95.7,434.1 96.2,434.7 96.7,435.3 97.2,435.8 97.7,436.3 98.2,436.8 98.7,437.3 99.2,437.8 99.7,438.2 100.2,438.4 100.7,438.5 101.2,438.5 101.7,438.5 102.2,438.4 102.7,438.3 103.2,438.3 103.7,438.2 104.2,438.1 104.7,438.1 105.2,438.1 105.7,438.0 106.2,438.0 106.7,437.9 107.2,437.9 107.7,437.9 108.2,438.0 108.7,438.0 109.2,438.1 109.7,438.1 110.2,438.1 110.7,438.2 111.2,438.2 111.7,438.3 112.2,438.3 112.7,438.4 113.2,438.4 113.7,438.5 114.2,438.5 114.7,438.5 115.2,438.6 115.7,438.5 116.2,438.4 116.7,438.1 117.2,437.7 117.7,437.3 118.2,436.8 118.7,436.3 119.2,435.7 119.7,435.0 120.2,434.3 120.7,433.6 121.2,433.0 121.7,432.5 122.2,432.2 122.7,432.1 123.2,432.0 123.7,432.0 124.2,432.0 124.7,432.2 125.2,432.8 125.7,433.5 126.2,434.5 126.7,435.4 127.2,436.4 127.7,437.4 128.2,438.5 128.7,439.6 129.2,440.9 129.7,442.1 130.2,443.3 130.7,444.5 131.2,445.6 131.7,446.5 132.2,447.3 132.7,448.0 133.2,448.7 133.7,449.3 134.2,449.8 134.7,450.0 135.2,450.0 135.7,449.9 136.2,449.7 136.7,449.5 137.2,449.3 137.7,449.1 138.2,449.0 138.7,448.8 139.2,448.7 139.7,448.6 140.2,448.6 140.7,448.7 141.2,448.9 141.7,449.3 142.2,449.7 142.7,450.2 143.2,450.6 143.7,451.2 144.2,451.9 144.7,452.6 145.2,453.3 145.7,454.1 146.2,454.8 146.7,455.6 147.2,456.3 147.7,457.1 148.2,457.7 148.7,458.3 149.2,458.7 149.7,459.0 150.2,459.0 150.7,458.7 151.2,458.0 151.7,457.3 152.2,456.6 152.7,455.8 153.2,454.9 153.7,454.0 154.2,453.1 154.7,452.1 155.2,451.1 155.7,450.1 156.2,448.9 156.7,447.5 157.2,445.7 157.7,443.6 158.2,441.5 158.7,439.2 159.2,436.8 159.7,434.3 160.2,431.7 160.7,429.0 161.2,426.4 161.7,423.8 162.2,421.3 162.7,418.8 163.2,416.5 163.7,414.4 164.2,412.5 164.7,410.7 165.2,408.9 165.7,407.2 166.2,405.6 166.7,404.0 167.2,402.5 167.7,401.1 168.2,399.9 168.7,398.9 169.2,397.9 169.7,397.1 170.2,396.5 170.7,396.0 171.2,395.5 171.7,395.1 172.2,394.8 172.7,394.5 173.2,394.3 173.7,394.0 174.2,393.8 174.7,393.5 175.2,393.2 175.7,392.8 176.2,392.5 176.7,392.2 177.2,391.8 177.7,391.5 178.2,391.2 178.7,390.9 179.2,390.6 179.7,390.4 180.2,390.3 180.7,390.2 181.2,390.1 181.7,389.9 182.2,389.8 182.7,389.7 183.2,389.6 183.7,389.5 184.2,389.4 184.7,389.4 185.2,389.5 185.7,389.5 186.2,389.6 186.7,389.7 187.2,389.9 187.7,390.0 188.2,390.1 188.7,390.1 189.2,389.9 189.7,389.5 190.2,389.0 190.7,388.4 191.2,387.8 191.7,387.2 192.2,386.6 192.7,385.9 193.2,385.3 193.7,384.7 194.2,384.2 194.7,383.9 195.2,383.7 195.7,383.8 196.2,383.9 196.7,384.0 197.2,384.1 197.7,384.2 198.2,384.3 198.7,384.4 199.2,384.5 199.7,384.5 200.2,384.6 200.7,384.7 201.2,384.7 201.7,384.8 202.2,384.7 202.7,384.7 203.2,384.6 203.7,384.6 204.2,384.7 204.7,384.9 205.2,385.2 205.7,385.5 206.2,385.9 206.7,386.3 207.2,386.7 207.7,387.1 208.2,387.6 208.7,388.1 209.2,388.6 209.7,389.1 210.2,389.6 210.7,390.2 211.2,390.7 211.7,391.2 212.2,391.8 212.7,392.4 213.2,392.9 213.7,393.5 214.2,393.9 214.7,394.4 215.2,394.8 215.7,395.2 216.2,395.6 216.7,395.9 217.2,396.2 217.7,396.4 218.2,396.6 218.7,396.8 219.2,397.0 219.7,397.1 220.2,397.2 220.7,397.3 221.2,397.3 221.7,397.4 222.2,397.4 222.7,397.4 223.2,397.3 223.7,397.3 224.2,397.2 224.7,397.1 225.2,397.0 225.7,396.9 226.2,396.8 226.7,396.6 227.2,396.4 227.7,396.3 228.2,396.1 228.7,396.0 229.2,395.9 229.7,395.8 230.2,395.7 230.7,395.7 231.2,395.8 231.7,395.9 232.2,396.1 232.7,396.4 233.2,396.8 233.7,397.2 234.2,397.6 234.7,398.0 235.2,398.4 235.7,398.8 236.2,399.3 236.7,399.7 237.2,400.2 237.7,400.7 238.2,401.1 238.7,401.6 239.2,402.1 239.7,402.6 240.2,403.1 240.7,403.6 241.2,404.1 241.7,404.7 242.2,405.2 242.7,405.7 243.2,406.3 243.7,406.9 244.2,407.5 244.7,408.1 245.2,408.7 245.7,409.4 246.2,410.0 246.7,410.6 247.2,411.0 247.7,411.3 248.2,411.6 248.7,411.8 249.2,412.0 249.7,412.0 250.2,412.0 250.7,411.9 251.2,411.8 251.7,411.7 252.2,411.5 252.7,411.3 253.2,411.0 253.7,410.7 254.2,410.5 254.7,410.2 255.2,410.0 255.7,409.8 256.2,409.5 256.7,409.3 257.2,409.1 257.7,408.9 258.2,408.6 258.7,408.4 259.2,408.2 259.7,408.0 260.2,407.8 260.7,407.6 261.2,407.6 261.7,407.8 262.2,408.1 262.7,408.5 263.2,408.8 263.7,409.2 264.2,409.6 264.7,410.1 265.2,410.5 265.7,410.9 266.2,411.4 266.7,411.8 267.2,412.2 267.7,412.5 268.2,412.8 268.7,413.1 269.2,413.4 269.7,413.7 270.2,413.9 270.7,414.0 271.2,414.1 271.7,414.1 272.2,414.0 272.7,413.8 273.2,413.5 273.7,413.1 274.2,412.7 274.7,412.2 275.2,411.8 275.7,411.4 276.2,411.1 276.7,410.8 277.2,410.5 277.7,410.1 278.2,409.9 278.7,409.6 279.2,409.4 279.7,409.3 280.2,409.1 280.7,408.9 281.2,408.7 281.7,408.6 282.2,408.5 282.7,408.4 283.2,408.3 283.7,408.3 284.2,408.4 284.7,408.6 285.2,408.8 285.7,409.0 286.2,409.2 286.7,409.4 287.2,409.5 287.7,409.7 288.2,409.8 288.7,410.0 289.2,410.1 289.7,410.2 290.2,410.3 290.7,410.5 291.2,410.6 291.7,410.7 292.2,410.8 292.7,411.0 293.2,411.2 293.7,411.5 294.2,411.8 294.7,412.1 295.2,412.5 295.7,412.8 296.2,413.2 296.7,413.7 297.2,414.2 297.7,414.7 298.2,415.2 298.7,415.7 299.2,416.2 299.7,416.7 300.2,417.2 300.7,417.7 301.2,418.1 301.7,418.5 302.2,418.7 302.7,418.9 303.2,419.1 303.7,419.2 304.2,419.3 304.7,419.4 305.2,419.4 305.7,419.4 306.2,419.4 306.7,419.4 307.2,419.3 307.7,419.3 308.2,419.1 308.7,419.0 309.2,418.9 309.7,418.8 310.2,418.6 310.7,418.5 311.2,418.4 311.7,418.3 312.2,418.1 312.7,418.0 313.2,417.9 313.7,417.8 314.2,417.6 314.7,417.5 315.2,417.4 315.7,417.3 316.2,417.2 316.7,417.1 317.2,417.0 317.7,416.9 318.2,416.8 318.7,416.8 319.2,416.7 319.7,416.7 320.2,416.7 320.7,416.7 321.2,416.7 321.7,416.7 322.2,416.7 322.7,416.7 323.2,416.7 323.7,416.7 324.2,416.7 324.7,416.7 325.2,416.7 325.7,416.7 326.2,416.6 326.7,416.6 327.2,416.6 327.7,416.5 328.2,416.5 328.7,416.4 329.2,416.4 329.7,416.3 330.2,416.1 330.7,415.9 331.2,415.8 331.7,415.6 332.2,415.4 332.7,415.2 333.2,415.0 333.7,414.8 334.2,414.7 334.7,414.5 335.2,414.4 335.7,414.3 336.2,414.2 336.7,414.1 337.2,414.1 337.7,414.1 338.2,414.1 338.7,414.1 339.2,414.1 339.7,414.2 340.2,414.3 340.7,414.5 341.2,414.6 341.7,414.8 342.2,414.9 342.7,415.1 343.2,415.4 343.7,415.6 344.2,415.8 344.7,416.1 345.2,416.3 345.7,416.6 346.2,416.8 346.7,417.1 347.2,417.3 347.7,417.6 348.2,417.8 348.7,418.1 349.2,418.2 349.7,418.3 350.2,418.4 350.7,418.5 351.2,418.6 351.7,418.7 352.2,418.8 352.7,418.8 353.2,419.0 353.7,419.1 354.2,419.3 354.7,419.5 355.2,419.7 355.7,419.9 356.2,420.1 356.7,420.2 357.2,420.3 357.7,420.3 358.2,420.4 358.7,420.4 359.2,420.4 359.7,420.4 360.2,420.4 360.7,420.3 361.2,420.2 361.7,420.0 362.2,419.9 362.7,419.7 363.2,419.5 363.7,419.2 364.2,418.9 364.7,418.6 365.2,418.4 365.7,418.2 366.2,418.1 366.7,418.1 367.2,418.1 367.7,418.1 368.2,418.2 368.7,418.4 369.2,418.6 369.7,418.9 370.2,419.1 370.7,419.3 371.2,419.6 371.7,419.8 372.2,420.0 372.7,420.3 373.2,420.5 373.7,420.8 374.2,421.0 374.7,421.2 375.2,421.4 375.7,421.6 376.2,421.7 376.7,421.9 377.2,422.0 377.7,422.2 378.2,422.2 378.7,422.3 379.2,422.4 379.7,422.5 380.2,422.6 380.7,422.7 381.2,422.8 381.7,422.9 382.2,423.0 382.7,423.1 383.2,423.3 383.7,423.4 384.2,423.5 384.7,423.6 385.2,423.8 385.7,423.9 386.2,424.0 386.7,424.1 387.2,424.2 387.7,424.3 388.2,424.4 388.7,424.5 389.2,424.5 389.7,424.6 390.2,424.6 390.7,424.5 391.2,424.4 391.7,424.2 392.2,424.1 392.7,423.9 393.2,423.8 393.7,423.6 394.2,423.4 394.7,423.3 395.2,423.1 395.7,422.9 396.2,422.8 396.7,422.6 397.2,422.6 397.7,422.5 398.2,422.4 398.7,422.4 399.2,422.3 399.7,422.3 400.2,422.3 400.7,422.2 401.2,422.2 401.7,422.2 402.2,422.2 402.7,422.1 403.2,422.1 403.7,422.1 404.2,422.1 404.7,422.1 405.2,422.1 405.7,422.1 406.2,422.1 406.7,422.0 407.2,421.9 407.7,421.8 408.2,421.7 408.7,421.6 409.2,421.5 409.7,421.5 410.2,421.4 410.7,421.3 411.2,421.2 411.7,421.2 412.2,421.1 412.7,421.2 413.2,421.3 413.7,421.5 414.2,421.8 414.7,422.0 415.2,422.3 415.7,422.5 416.2,422.8 416.7,423.0 417.2,423.3 417.7,423.5 418.2,423.7 418.7,424.0 419.2,424.1 419.7,424.3 420.2,424.4 420.7,424.4 421.2,424.5 421.7,424.6 422.2,424.7 422.7,424.7 423.2,424.8 423.7,424.8 424.2,424.9 424.7,424.9 425.2,425.0 425.7,425.0 426.2,425.1 426.7,425.2 427.2,425.3 427.7,425.3 428.2,425.4 428.7,425.5 429.2,425.6 429.7,425.7 430.2,425.9 430.7,426.0 431.2,426.1 431.7,426.2 432.2,426.3 432.7,426.4 433.2,426.5 433.7,426.6 434.2,426.7 434.7,426.8 435.2,426.9 435.7,427.0 436.2,427.1 436.7,427.2 437.2,427.2 437.7,427.3 438.2,427.4 438.7,427.4 439.2,427.5 439.7,427.5 440.2,427.5 440.7,427.5 441.2,427.6 441.7,427.6 442.2,427.6 442.7,427.6 443.2,427.7 443.7,427.7 444.2,427.7 444.7,427.7 445.2,427.7 445.7,427.7 446.2,427.6 446.7,427.6 447.2,427.5 447.7,427.5 448.2,427.4 448.7,427.3 449.2,427.3 449.7,427.2 450.2,427.1 450.7,427.0 451.2,426.9 451.7,426.8 452.2,426.7 452.7,426.6 453.2,426.5 453.7,426.5 454.2,426.5 454.7,426.6 455.2,426.8 455.7,427.0 456.2,427.1 456.7,427.3 457.2,427.5 457.7,427.7 458.2,427.8 458.7,428.0 459.2,428.2 459.7,428.4 460.2,428.5 460.7,428.6 461.2,428.8 461.7,428.9 462.2,429.0 462.7,429.1 463.2,429.1 463.7,429.0 464.2,428.9 464.7,428.8 465.2,428.7 465.7,428.6 466.2,428.5 466.7,428.4 467.2,428.3 467.7,428.2 468.2,428.1 468.7,428.0 469.2,428.1 469.7,428.2 470.2,428.3 470.7,428.5 471.2,428.6 471.7,428.8 472.2,429.0 472.7,429.2 473.2,429.4 473.7,429.5 474.2,429.7 474.7,429.9 475.2,430.0 475.7,430.1 476.2,430.1 476.7,430.0 477.2,429.8 477.7,429.6 478.2,429.4 478.7,429.2 479.2,429.0 479.7,428.9 480.2,428.7 480.7,428.6 481.2,428.4 481.7,428.3 482.2,428.1 482.7,428.0 483.2,427.9 483.7,427.9 484.2,427.9 484.7,428.0 485.2,428.1 485.7,428.2 486.2,428.3 486.7,428.5 487.2,428.6 487.7,428.8 488.2,428.9 488.7,429.1 489.2,429.3 489.7,429.5 490.2,429.6 490.7,429.7 491.2,429.8 491.7,429.7 492.2,429.7 492.7,429.7 493.2,429.6 493.7,429.6 494.2,429.5 494.7,429.5 495.2,429.5 495.7,429.5 496.2,429.5 496.7,429.5 497.2,429.6 497.7,429.6 498.2,429.7 498.7,429.8 499.2,429.9 499.7,430.0 500.2,430.1 500.7,430.3 501.2,430.4 501.7,430.5 502.2,430.7 502.7,430.8 503.2,431.0 503.7,431.1 504.2,431.2 504.7,431.3 505.2,431.4 505.7,431.5 506.2,431.6 506.7,431.7 507.2,431.8 507.7,431.8 508.2,431.9 508.7,432.0 509.2,432.0 509.7,432.1 510.2,432.1 510.7,432.2 511.2,432.2 511.7,432.3 512.2,432.3 512.7,432.4 513.2,432.5 513.7,432.6 514.2,432.8 514.7,433.0 515.2,433.3 515.7,433.5 516.2,433.7 516.7,433.8 517.2,433.9 517.7,434.0 518.2,434.1 518.7,434.2 519.2,434.2 519.7,434.3 520.2,434.2 520.7,434.2 521.2,434.1 521.7,434.0 522.2,434.0 522.7,433.9 523.2,433.7 523.7,433.5 524.2,433.3 524.7,433.1 525.2,432.9 525.7,432.7 526.2,432.5 526.7,432.4 527.2,432.4 527.7,432.3 528.2,432.3 528.7,432.3 529.2,432.3 529.7,432.3 530.2,432.4 530.7,432.4 531.2,432.5 531.7,432.6 532.2,432.6 532.7,432.7 533.2,432.6 533.7,432.6 534.2,432.5 534.7,432.4 535.2,432.3 535.7,432.3 536.2,432.2 536.7,432.1 537.2,432.0 537.7,432.0 538.2,431.9 538.7,431.9 539.2,431.9 539.7,431.9 540.2,432.0 540.7,432.0 541.2,432.1 541.7,432.2 542.2,432.3 542.7,432.3 543.2,432.4 543.7,432.5 544.2,432.6 544.7,432.7 545.2,432.8 545.7,432.9 546.2,433.0 546.7,433.1 547.2,433.1 547.7,433.2 548.2,433.2 548.7,433.3 549.2,433.3 549.7,433.3 550.2,433.3 550.7,433.2 551.2,433.2 551.7,433.1 552.2,433.0 552.7,432.9 553.2,432.8 553.7,432.7 554.2,432.6 554.7,432.6 555.2,432.5 555.7,432.6 556.2,432.7 556.7,432.8 557.2,433.0 557.7,433.1 558.2,433.3 558.7,433.5 559.2,433.7 559.7,433.9 560.2,434.1 560.7,434.3 561.2,434.4 561.7,434.6 562.2,434.7 562.7,434.8 563.2,434.9 563.7,434.9 564.2,434.9 564.7,434.8 565.2,434.8 565.7,434.7 566.2,434.6 566.7,434.5 567.2,434.4 567.7,434.3 568.2,434.3 568.7,434.2 569.2,434.2 569.7,434.1 570.2,434.0 570.7,433.9 571.2,433.8 571.7,433.7 572.2,433.5 572.7,433.4 573.2,433.3 573.7,433.2 574.2,433.2 574.7,433.3 575.2,433.3 575.7,433.4 576.2,433.5 576.7,433.6 577.2,433.7 577.7,433.7 578.2,433.8 578.7,433.8 579.2,433.8 579.7,433.8 580.2,433.8 580.7,433.8 581.2,433.8 581.7,433.7 582.2,433.7 582.7,433.6 583.2,433.6 583.7,433.5 584.2,433.5 584.7,433.5 585.2,433.4 585.7,433.4 586.2,433.4 586.7,433.5 587.2,433.6 587.7,433.8 588.2,434.0 588.7,434.2 589.2,434.4 589.7,434.6 590.2,434.8 590.7,434.9 591.2,435.1 591.7,435.2 592.2,435.4 592.7,435.4 593.2,435.5 593.7,435.4 594.2,435.3 594.7,435.1 595.2,435.0 595.7,434.8 596.2,434.7 596.7,434.6 597.2,434.5 597.7,434.4 598.2,434.3 598.7,434.2 599.2,434.1 599.7,434.1 600.2,434.1 600.7,434.1 601.2,434.2 601.7,434.2 602.2,434.3 602.7,434.4 603.2,434.5 603.7,434.7 604.2,434.9 604.7,435.0 605.2,435.2 605.7,435.4 606.2,435.5 606.7,435.6 607.2,435.7 607.7,435.7 608.2,435.8 608.7,435.9 609.2,435.9 609.7,436.0 610.2,436.1 610.7,436.1 611.2,436.2 611.7,436.2 612.2,436.3 612.7,436.3 613.2,436.4 613.7,436.4 614.2,436.5 614.7,436.5 615.2,436.6 615.7,436.7 616.2,436.8 616.7,436.9 617.2,437.1 617.7,437.2 618.2,437.4 618.7,437.5 619.2,437.6 619.7,437.8 620.2,437.9 620.7,438.0 621.2,438.0 621.7,438.0 622.2,437.9 622.7,437.8 623.2,437.6 623.7,437.4 624.2,437.2 624.7,437.0 625.2,436.9 625.7,436.7 626.2,436.6 626.7,436.5 627.2,436.4 627.7,436.4 628.2,436.4 628.7,436.5 629.2,436.6 629.7,436.7 630.2,436.7 630.7,436.7 631.2,436.7 631.7,436.7 632.2,436.7 632.7,436.7 633.2,436.7 633.7,436.7 634.2,436.7 634.7,436.7 635.2,436.7 635.7,436.7 636.2,436.6 636.7,436.6 637.2,436.5 637.7,436.5 638.2,436.4 638.7,436.4 639.2,436.4 639.7,436.4 640.2,436.4 640.7,436.4 641.2,436.4 641.7,436.4 642.2,436.4 642.7,436.4 643.2,436.5 643.7,436.6 644.2,436.6 644.7,436.8 645.2,436.9 645.7,437.0 646.2,437.2 646.7,437.4 647.2,437.5 647.7,437.6 648.2,437.7 648.7,437.7 649.2,437.8 649.7,437.9 650.2,437.9 650.7,438.0 651.2,438.0 651.7,438.0 652.2,438.0 652.7,437.9 653.2,437.8 653.7,437.8 654.2,437.7 654.7,437.6 655.2,437.4 655.7,437.3 656.2,437.2 656.7,437.1 657.2,437.0 657.7,436.8 658.2,436.8 658.7,436.7 659.2,436.7 659.7,436.7 660.2,436.7 660.7,436.7 661.2,436.7 661.7,436.6 662.2,436.6 662.7,436.6 663.2,436.5 663.7,436.5 664.2,436.4 664.7,436.4 665.2,436.4 665.7,436.5 666.2,436.5 666.7,436.6 667.2,436.6 667.7,436.6 668.2,436.6 668.7,436.6 669.2,436.5 669.7,436.5 670.2,436.4 670.7,436.4 671.2,436.5 671.7,436.5 672.2,436.6 672.7,436.7 673.2,436.8 673.7,436.9 674.2,437.1 674.7,437.2 675.2,437.3" fill="none" stroke="#111" stroke-width="1.1" stroke-linejoin="round"/>
<text class="cap" text-anchor="middle" x="354.5" y="256.8">(a)</text>
<text class="cap" text-anchor="middle" x="354.5" y="512.5">(b)</text>
</svg>
</body></html>
